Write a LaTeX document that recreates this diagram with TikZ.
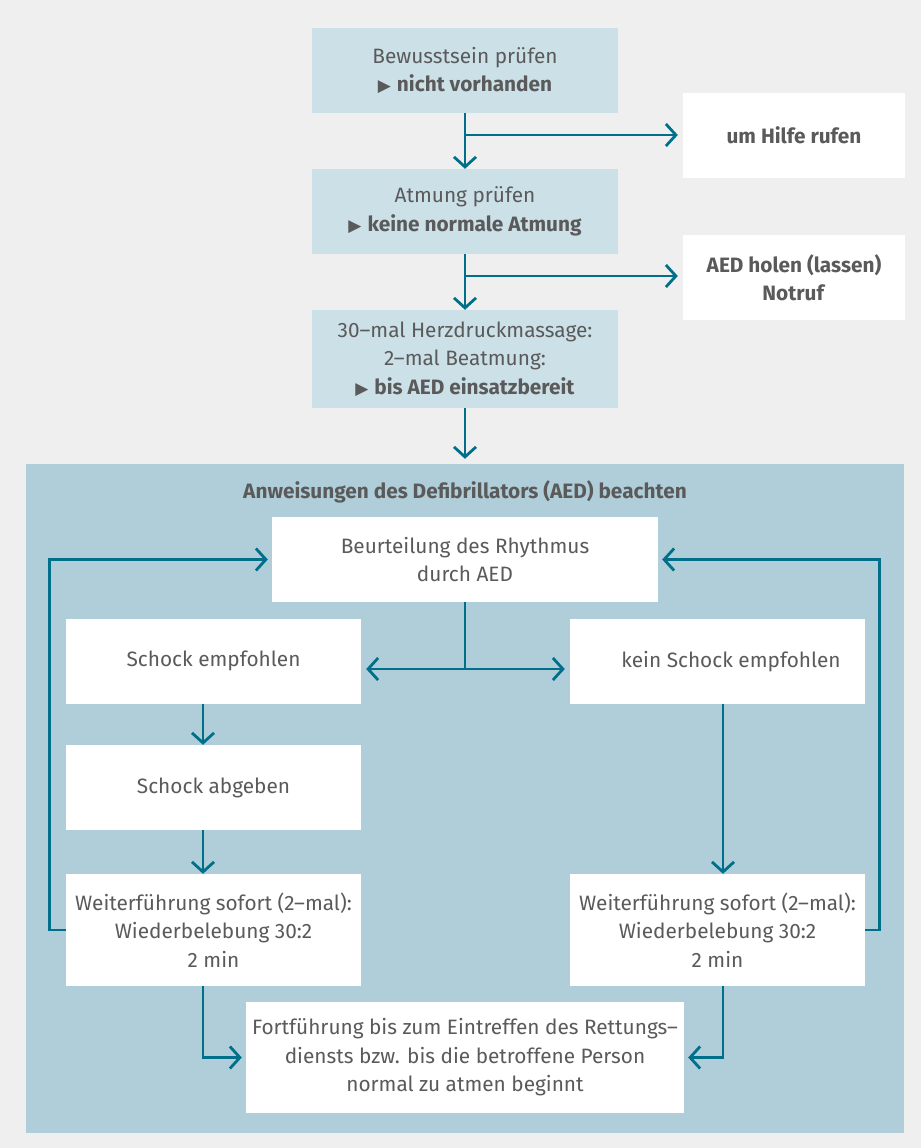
\documentclass[tikz,border=0pt]{standalone}
\usepackage{fontspec}
\setmainfont{Fira Sans}
\newfontfamily\symfont{DejaVu Sans}
\usetikzlibrary{arrows.meta}
\definecolor{bgc}{HTML}{EFEFEF}
\definecolor{panelc}{HTML}{B0CED9}
\definecolor{topc}{HTML}{CCE0E8}
\definecolor{teal}{HTML}{00708A}
\definecolor{txt}{HTML}{5A5A5A}
\newcommand{\tri}{{\symfont\fontsize{17}{17}\selectfont ▶}\hspace{6pt}}
\tikzset{
  base/.style={inner sep=0pt, align=center, text=txt, font=\fontsize{20.8}{28.5}\selectfont},
  topbox/.style={base, fill=topc, minimum width=306pt, minimum height=85pt},
  sidebox/.style={base, fill=white, minimum width=222pt, minimum height=85pt},
  inbox/.style={base, fill=white, minimum width=295pt, minimum height=85pt},
  arr/.style={draw=teal, line width=2.8pt, -{Straight Barb[length=10pt,width=22pt,line width=2.8pt]}},
  ln/.style={draw=teal, line width=2.8pt},
}
\begin{document}
\begin{tikzpicture}[x=1pt,y=-1pt]
\fill[bgc] (0,0) rectangle (921,1148);
\useasboundingbox (0,0) rectangle (921,1148);
\node[fill=panelc, minimum width=878pt, minimum height=669pt, inner sep=0pt] (panel) at (465,798.5) {};
% top boxes
\node[topbox] (b1) at (465,70.5) {Bewusstsein prüfen\\\tri\textbf{nicht vorhanden}};
\node[topbox] (b2) at (465,211.5) {Atmung prüfen\\\tri\textbf{keine normale Atmung}};
\node[topbox, minimum height=98pt] (b3) at (465,359) {30–mal Herzdruckmassage:\\2–mal Beatmung:\\\tri\textbf{bis AED einsatzbereit}};
\node[sidebox] (hilfe) at (794,135.5) {\textbf{um Hilfe rufen}};
\node[sidebox] (aed) at (794,277.5) {\textbf{AED holen (lassen)}\\\textbf{Notruf}};
\coordinate (j1) at (465,135);
\coordinate (j2) at (465,276);
\draw[arr] (b1.south) -- (b2.north);
\draw[arr, shorten >=5pt] (j1) -- (hilfe.west |- j1);
\draw[arr] (b2.south) -- (b3.north);
\draw[arr, shorten >=5pt] (j2) -- (aed.west |- j2);
\draw[arr, shorten >=5pt] (b3.south) -- (b3.south |- panel.north);
% panel
\node[base, font=\fontsize{20.8}{28.5}\selectfont\bfseries] (title) at (465,492) {Anweisungen des Defibrillators (AED) beachten};
\node[inbox, minimum width=386pt] (bs) at (465,559.5) {Beurteilung des Rhythmus\\durch AED};
\node[inbox] (se) at (213.5,661) {Schock empfohlen};
\node[inbox] (ke) at (717.5,661.5) {\hspace*{27pt}kein Schock empfohlen};
\node[inbox] (sa) at (213.5,787.5) {Schock abgeben};
\node[inbox, minimum height=112pt] (wl) at (213.5,930) {Weiterführung sofort (2–mal):\\Wiederbelebung 30:2\\2 min};
\node[inbox, minimum height=112pt] (wr) at (717.5,930) {Weiterführung sofort (2–mal):\\Wiederbelebung 30:2\\2 min};
\node[inbox, minimum width=438pt, minimum height=111pt] (ff) at (465,1057.5) {Fortführung bis zum Eintreffen des Rettungs–\\diensts bzw. bis die betroffene Person\\normal zu atmen beginnt};
\coordinate (js) at (465,669);
\draw[ln] (bs.south) -- (js);
\draw[arr, shorten >=5pt] (js) -- (se.east |- js);
\draw[arr, shorten >=5pt] (js) -- (ke.west |- js);
\draw[arr] ([xshift=-10.5pt]se.south) -- ([xshift=-10.5pt]sa.north);
\draw[arr] ([xshift=-10.5pt]sa.south) -- ([xshift=-10.5pt]wl.north);
\draw[arr] ([xshift=5.5pt]ke.south) -- ([xshift=5.5pt]wr.north);
\draw[arr, shorten >=4pt] (wl.west) -- ++(-16,0) |- (bs.west);
\draw[arr, shorten >=4pt] (wr.east) -- ++(14,0) |- (bs.east);
\draw[arr, shorten >=4pt] ([xshift=-10.5pt]wl.south) |- (ff.west);
\draw[arr, shorten >=4pt] ([xshift=5.5pt]wr.south) |- (ff.east);
\end{tikzpicture}
\end{document}
